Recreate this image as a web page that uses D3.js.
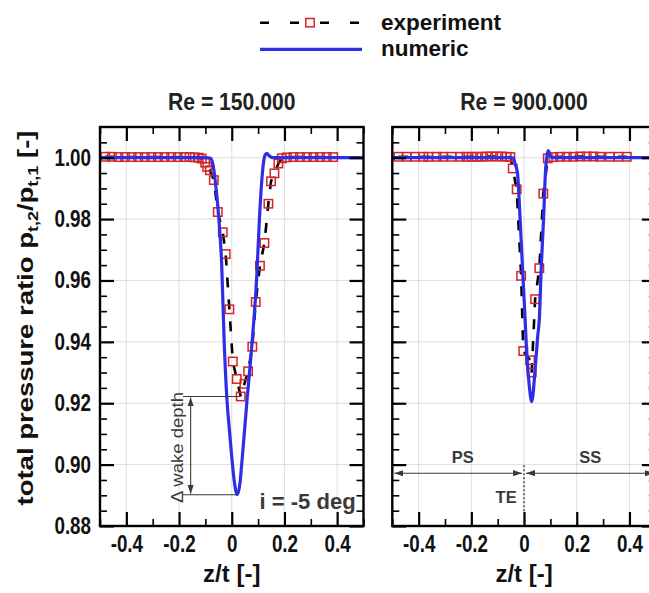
<!DOCTYPE html>
<html>
<head>
<meta charset="utf-8">
<script src="https://cdn.jsdelivr.net/npm/d3@7"></script>
<style>
body { margin: 0; background: #fff; }
svg { display: block; font-family: "Liberation Sans", Arial, sans-serif; }
</style>
</head>
<body>
<svg class="chart" width="649" height="593"></svg>
<script>
// Re = 150.000 : numeric (blue line)
const numZ150 = [-0.5, -0.1, -0.08, -0.072, -0.063, -0.051, -0.038, -0.029, -0.019, -0.009, 0, 0.009, 0.021, 0.031, 0.038, 0.057, 0.076, 0.095, 0.105, 0.118, 0.126, 0.133, 0.142, 0.155, 0.5];
const numV150 = [1.0, 1.0, 0.9998, 0.998, 0.9927, 0.9823, 0.9648, 0.9408, 0.9222, 0.9113, 0.9025, 0.895, 0.8902, 0.8938, 0.9003, 0.920, 0.9386, 0.9615, 0.980, 0.9965, 1.0008, 1.0014, 1.0006, 1.0, 1.0];
// Re = 150.000 : experiment (squares)
const expZ150 = [-0.48, -0.455, -0.43, -0.405, -0.38, -0.355, -0.33, -0.305, -0.28, -0.255, -0.23, -0.205, -0.18, -0.16, -0.14, -0.125, -0.114, -0.101, -0.093, -0.083, -0.068, -0.053, -0.034, -0.023, -0.009, 0.004, 0.019, 0.034, 0.048, 0.062, 0.078, 0.091, 0.107, 0.124, 0.139, 0.149, 0.162, 0.177, 0.19, 0.209, 0.234, 0.259, 0.285, 0.31, 0.335, 0.36, 0.385];
const expV150 = [1.0003, 1.0003, 1.0002, 1.0002, 1.0002, 1.0002, 1.0002, 1.0002, 1.0002, 1.0002, 1.0002, 1.0002, 1.0002, 1.0002, 1.0001, 1.0, 0.9997, 0.9984, 0.997, 0.9959, 0.9927, 0.9823, 0.9757, 0.9686, 0.9506, 0.9336, 0.9279, 0.9222, 0.9263, 0.9304, 0.9384, 0.953, 0.9648, 0.9722, 0.985, 0.9923, 0.9949, 0.9981, 0.9998, 1.0001, 1.0002, 1.0002, 1.0002, 1.0002, 1.0002, 1.0002, 1.0002];

// Re = 900.000 : numeric
const numZ900 = [-0.5, -0.05, -0.04, -0.034, -0.025, -0.015, -0.005, 0.004, 0.010, 0.020, 0.029, 0.042, 0.052, 0.058, 0.065, 0.074, 0.082, 0.088, 0.092, 0.097, 0.104, 0.5];
const numV900 = [1.0, 1.0, 0.9998, 0.998, 0.995, 0.980, 0.9626, 0.9474, 0.9365, 0.9256, 0.9205, 0.931, 0.942, 0.9474, 0.9637, 0.980, 0.9965, 1.0012, 1.0023, 1.0012, 1.0, 1.0];
// Re = 900.000 : experiment
const expZ900 = [-0.477, -0.445, -0.414, -0.382, -0.363, -0.332, -0.307, -0.275, -0.243, -0.218, -0.199, -0.180, -0.161, -0.142, -0.123, -0.104, -0.085, -0.066, -0.052, -0.043, -0.028, -0.011, -0.003, 0.023, 0.029, 0.042, 0.058, 0.073, 0.090, 0.111, 0.137, 0.162, 0.187, 0.213, 0.238, 0.263, 0.288, 0.326, 0.358, 0.39];
const expV900 = [1.0003, 1.0003, 1.0003, 1.0003, 1.0003, 1.0003, 1.0003, 1.0003, 1.0003, 1.0003, 1.0003, 1.0003, 1.0003, 1.0004, 1.0004, 1.0004, 1.0004, 1.0003, 1.0002, 0.9965, 0.9897, 0.9615, 0.937, 0.934, 0.930, 0.9539, 0.964, 0.9883, 0.9998, 1.0002, 1.0003, 1.0003, 1.0003, 1.0004, 1.0004, 1.0004, 1.0003, 1.0003, 1.0003, 1.0003];

const titles = ['Re = 150.000', 'Re = 900.000'];
const xMajor = [-0.4, -0.2, 0, 0.2, 0.4];
const xMinor = [-0.5, -0.3, -0.1, 0.1, 0.3, 0.5];
const xTickLabels = ['-0.4', '-0.2', '0', '0.2', '0.4'];
const yMajor = [0.88, 0.90, 0.92, 0.94, 0.96, 0.98, 1.00];
const yTickLabels = ['0.88', '0.90', '0.92', '0.94', '0.96', '0.98', '1.00'];
const yMinor = [0.885, 0.89, 0.895, 0.905, 0.91, 0.915, 0.925, 0.93, 0.935, 0.945, 0.95, 0.955, 0.965, 0.97, 0.975, 0.985, 0.99, 0.995, 1.005];
const seriesNames = ['experiment', 'numeric'];

const BLUE = '#2e2ee6';
const RED = '#d42424';
const INK = '#3a3a3a';

const chart = d3.select('.chart');
const panelTop = 127, panelW = 263.5, panelH = 399;
const panelLeft = [100, 392.3];
const sq = 8.4;

const defs = chart.append('defs');
defs.append('marker')
    .attr('id', 'arr')
    .attr('viewBox', '0 0 10 10')
    .attr('refX', 10).attr('refY', 5)
    .attr('markerWidth', 9).attr('markerHeight', 9)
    .attr('markerUnits', 'userSpaceOnUse')
    .attr('orient', 'auto-start-reverse')
    .append('path').attr('d', 'M0,1.5L10,5L0,8.5Z').attr('fill', INK);

const x = d3.scaleLinear().domain([-0.5, 0.5]).range([0, panelW]);
const y = d3.scaleLinear().domain([0.88, 1.01]).range([panelH, 0]);

const line = d3.line().x(d => x(d[0])).y(d => y(d[1]));

const panels = [
    { num: d3.zip(numZ150, numV150), exp: d3.zip(expZ150, expV150) },
    { num: d3.zip(numZ900, numV900), exp: d3.zip(expZ900, expV900) }
];

// text squeezed horizontally like the original figure
const label = (sel, txt, px, py, size, k, rot, anchor, weight, fill) => sel.append('text')
    .attr('transform', `translate(${px},${py}) scale(${k},1) rotate(${rot})`)
    .attr('text-anchor', anchor)
    .attr('font-size', size)
    .attr('font-weight', weight)
    .attr('fill', fill)
    .text(txt);

const styleTicks = (sel, w) => {
    sel.select('.domain').remove();
    sel.selectAll('line').attr('stroke', '#000').attr('stroke-width', w);
};

panels.forEach((p, pi) => {
    const g = chart.append('g').attr('transform', `translate(${panelLeft[pi]},${panelTop})`);

    // grid
    g.append('g').selectAll('line').data(xMajor).enter().append('line')
        .attr('x1', d => x(d)).attr('x2', d => x(d))
        .attr('y1', 0).attr('y2', panelH)
        .attr('stroke', '#dedede').attr('stroke-width', 1);
    g.append('g').selectAll('line').data(yMajor.slice(1)).enter().append('line')
        .attr('y1', d => y(d)).attr('y2', d => y(d))
        .attr('x1', 0).attr('x2', panelW)
        .attr('stroke', '#dedede').attr('stroke-width', 1);

    // experiment
    g.append('path').datum(p.exp)
        .attr('d', line)
        .attr('fill', 'none').attr('stroke', '#000')
        .attr('stroke-width', 2.6).attr('stroke-dasharray', '10,12');
    g.append('g').selectAll('rect').data(p.exp).enter().append('rect')
        .attr('x', d => x(d[0]) - sq / 2).attr('y', d => y(d[1]) - sq / 2)
        .attr('width', sq).attr('height', sq)
        .attr('fill', 'none').attr('stroke', RED).attr('stroke-width', 1.5);

    // numeric
    g.append('path').datum(p.num)
        .attr('d', line.curve(d3.curveMonotoneX))
        .attr('fill', 'none').attr('stroke', BLUE).attr('stroke-width', 3.2);
    line.curve(d3.curveLinear);

    // frame
    g.append('rect').attr('width', panelW).attr('height', panelH)
        .attr('fill', 'none').attr('stroke', '#000').attr('stroke-width', 2.4);

    // ticks, all pointing inward
    const bottom = g.append('g').attr('transform', `translate(0,${panelH})`)
        .call(d3.axisBottom(x).tickValues(xMajor).tickSize(-14).tickPadding(9).tickFormat((d, i) => xTickLabels[i]))
        .call(s => styleTicks(s, 2.2));
    bottom.selectAll('text')
        .attr('font-family', '"Liberation Sans", Arial, sans-serif')
        .attr('font-size', 23.5).attr('font-weight', 'bold').attr('fill', '#111')
        .attr('transform', 'scale(0.8,1)');
    g.append('g').attr('transform', `translate(0,${panelH})`)
        .call(d3.axisBottom(x).tickValues(xMinor).tickSize(-7).tickFormat(''))
        .call(s => styleTicks(s, 1.6));
    g.append('g')
        .call(d3.axisTop(x).tickValues(xMajor).tickSize(-14).tickFormat(''))
        .call(s => styleTicks(s, 2.2));
    g.append('g')
        .call(d3.axisTop(x).tickValues(xMinor).tickSize(-7).tickFormat(''))
        .call(s => styleTicks(s, 1.6));

    const leftAx = g.append('g')
        .call(d3.axisLeft(y).tickValues(yMajor).tickSize(-14).tickPadding(9)
            .tickFormat((d, i) => pi === 0 ? yTickLabels[i] : ''))
        .call(s => styleTicks(s, 2.2));
    leftAx.selectAll('text')
        .attr('font-family', '"Liberation Sans", Arial, sans-serif')
        .attr('font-size', 23.5).attr('font-weight', 'bold').attr('fill', '#111')
        .attr('x', -9 / 0.8)
        .attr('transform', 'scale(0.8,1)');
    g.append('g')
        .call(d3.axisLeft(y).tickValues(yMinor).tickSize(-7).tickFormat(''))
        .call(s => styleTicks(s, 1.6));
    g.append('g').attr('transform', `translate(${panelW},0)`)
        .call(d3.axisRight(y).tickValues(yMajor).tickSize(-14).tickFormat(''))
        .call(s => styleTicks(s, 2.2));
    g.append('g').attr('transform', `translate(${panelW},0)`)
        .call(d3.axisRight(y).tickValues(yMinor).tickSize(-7).tickFormat(''))
        .call(s => styleTicks(s, 1.6));

    // titles and x label
    label(g, titles[pi], x(0), -17, 23, 0.92, 0, 'middle', 'bold', '#222');
    label(g, 'z/t [-]', x(0), panelH + 56, 24, 1, 0, 'middle', 'bold', '#111');
    p.g = g;
});

// Re = 150.000 annotation: wake depth between experiment and numeric minima
{
    const g = panels[0].g;
    const iE = d3.minIndex(expV150), iN = d3.minIndex(numV150);
    const xs = x(-0.185), xa = x(-0.156);
    g.append('line').attr('x1', xs).attr('x2', x(expZ150[iE])).attr('y1', y(expV150[iE])).attr('y2', y(expV150[iE]))
        .attr('stroke', INK).attr('stroke-width', 1.1);
    g.append('line').attr('x1', xs).attr('x2', x(numZ150[iN])).attr('y1', y(numV150[iN])).attr('y2', y(numV150[iN]))
        .attr('stroke', INK).attr('stroke-width', 1.1);
    g.append('line').attr('x1', xa).attr('x2', xa).attr('y1', y(expV150[iE]) + 1).attr('y2', y(numV150[iN]) - 1)
        .attr('stroke', INK).attr('stroke-width', 1.1)
        .attr('marker-start', 'url(#arr)').attr('marker-end', 'url(#arr)');
    label(g, '\u0394 wake depth', x(-0.2) + 4, (y(expV150[iE]) + y(numV150[iN])) / 2 + 2, 18.5, 0.92, -90, 'middle', 'normal', INK);
    label(g, 'i = -5 deg', x(0.47), y(0.8855), 22, 1, 0, 'end', 'bold', INK);
}

// Re = 900.000 annotation: pressure side / suction side split at the trailing edge
{
    const g = panels[1].g;
    const ya = y(0.8972);
    g.append('line').attr('x1', x(-0.5) + 2).attr('x2', x(0) - 2).attr('y1', ya).attr('y2', ya)
        .attr('stroke', INK).attr('stroke-width', 1.1)
        .attr('marker-start', 'url(#arr)').attr('marker-end', 'url(#arr)');
    g.append('line').attr('x1', x(0) + 2).attr('x2', x(0.5) - 2).attr('y1', ya).attr('y2', ya)
        .attr('stroke', INK).attr('stroke-width', 1.1)
        .attr('marker-start', 'url(#arr)').attr('marker-end', 'url(#arr)');
    g.append('line').attr('x1', x(0)).attr('x2', x(0)).attr('y1', ya - 8).attr('y2', panelH)
        .attr('stroke', '#222').attr('stroke-width', 1.2).attr('stroke-dasharray', '2,2');
    label(g, 'PS', x(-0.233), ya - 10, 16.5, 1, 0, 'middle', 'bold', INK);
    label(g, 'SS', x(0.251), ya - 10, 16.5, 1, 0, 'middle', 'bold', INK);
    label(g, 'TE', x(-0.068), ya + 30, 16.5, 1, 0, 'middle', 'bold', INK);
}

// y axis title with subscripts
const yt = chart.append('text')
    .attr('transform', `translate(33,318) scale(0.8,1) rotate(-90)`)
    .attr('text-anchor', 'middle')
    .attr('font-size', 27.5).attr('font-weight', 'bold').attr('fill', '#111');
yt.append('tspan').text('total pressure ratio p');
yt.append('tspan').attr('font-size', 18).attr('dy', 6).text('t,2');
yt.append('tspan').attr('dy', -6).text('/p');
yt.append('tspan').attr('font-size', 18).attr('dy', 6).text('t,1');
yt.append('tspan').attr('dy', -6).text(' [-]');

// legend
const lg = chart.append('g').attr('transform', 'translate(260,0)');
lg.append('line').attr('x1', 0).attr('x2', 102).attr('y1', 22.7).attr('y2', 22.7)
    .attr('stroke', '#000').attr('stroke-width', 2.6).attr('stroke-dasharray', '9,21');
lg.append('rect').attr('x', 50 - sq / 2).attr('y', 22.7 - sq / 2).attr('width', sq).attr('height', sq)
    .attr('fill', '#fff').attr('stroke', RED).attr('stroke-width', 1.5);
lg.append('line').attr('x1', 0).attr('x2', 102).attr('y1', 49.3).attr('y2', 49.3)
    .attr('stroke', BLUE).attr('stroke-width', 3.2);
lg.selectAll('text.lg').data(seriesNames).enter().append('text')
    .attr('x', 121).attr('y', (d, i) => 29.5 + i * 26.5)
    .attr('font-size', 22.5).attr('font-weight', 'bold').attr('fill', '#111')
    .text(d => d);
</script>
</body>
</html>
